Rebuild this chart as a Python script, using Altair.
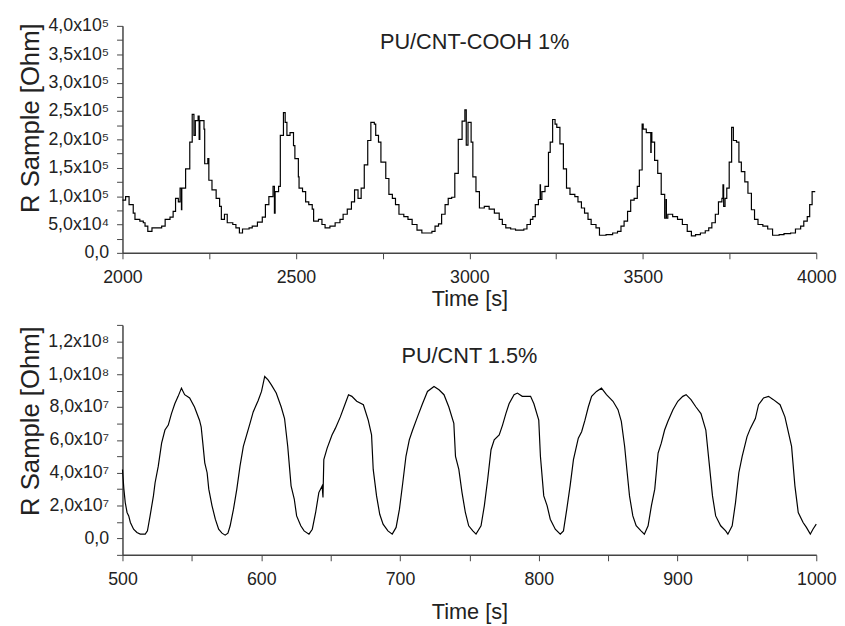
import altair as alt
import pandas as pd

# ---------------- data: top panel (PU/CNT-COOH 1%) ----------------
t_cooh = [2000, 2009, 2019, 2031, 2036, 2050, 2060, 2065, 2073, 2085, 2113, 2123, 2137, 2146, 2153, 2161,
          2166, 2170, 2171, 2182, 2194, 2201, 2206, 2210, 2218, 2221, 2223, 2235, 2237, 2246, 2249, 2258,
          2270, 2280, 2285, 2294, 2302, 2318, 2327, 2337, 2346, 2365, 2374, 2389, 2403, 2412, 2422, 2434,
          2438, 2440, 2450, 2455, 2464, 2469, 2474, 2483, 2493, 2497, 2507,
          2509, 2519, 2528, 2537, 2547, 2551, 2565, 2575, 2584, 2598, 2613, 2627, 2636, 2648, 2660, 2669,
          2679, 2688, 2697, 2707, 2716, 2726, 2730, 2738, 2745, 2759, 2768, 2778, 2787, 2797, 2811, 2823,
          2835, 2849, 2863, 2877, 2892, 2901, 2911, 2920, 2930, 2939, 2949, 2958, 2968, 2979, 2987, 2991,
          2996,
          3005, 3010, 3019, 3029, 3043, 3057, 3072, 3086, 3095, 3105, 3119, 3133, 3157, 3166, 3176, 3183,
          3190, 3199, 3204, 3205, 3209, 3218, 3228, 3233, 3240, 3247, 3252, 3261, 3271, 3280, 3290, 3304,
          3313, 3323, 3332, 3342, 3351, 3365, 3375, 3394, 3413, 3427, 3437, 3446, 3456, 3465, 3475, 3484,
          3490, 3498,
          3501, 3510, 3520, 3523, 3524, 3526, 3534, 3543, 3553, 3563, 3567, 3568, 3572, 3586, 3600, 3614,
          3628, 3640, 3652, 3666, 3680, 3690, 3699, 3709, 3718, 3728, 3731, 3733, 3737, 3742, 3749, 3756,
          3761, 3770, 3777, 3784, 3794, 3803, 3813, 3822, 3832, 3846, 3860, 3874, 3893, 3907, 3926, 3940,
          3955, 3964, 3974, 3981, 3988, 3997]
r_cooh = [93000, 99000, 85000, 70000, 59000, 56000, 53000, 47000, 38000, 44000, 47000, 59000, 63000, 73000, 96000, 90000,
          114000, 76000, 114000, 148000, 195000, 244000, 207000, 233000, 241000, 200000, 233000, 218000, 157000, 166000, 128000, 111000,
          96000, 82000, 59000, 68000, 53000, 50000, 44000, 35000, 42000, 44000, 47000, 54000, 63000, 85000, 99000, 117000,
          70000, 108000, 117000, 207000, 247000, 230000, 207000, 212000, 189000, 166000, 134000,
          114000, 108000, 90000, 85000, 77000, 56000, 59000, 50000, 44000, 47000, 53000, 59000, 68000, 77000, 90000, 111000,
          96000, 114000, 155000, 198000, 230000, 227000, 207000, 195000, 160000, 131000, 103000, 96000, 85000, 68000, 64000, 59000,
          50000, 40000, 35000, 35000, 38000, 47000, 51000, 68000, 85000, 96000, 98000, 140000, 200000, 232000, 252000, 190000,
          230000,
          195000, 134000, 108000, 79000, 82000, 77000, 70000, 59000, 50000, 44000, 42000, 40000, 42000, 50000, 59000, 64000,
          85000, 94000, 120000, 94000, 108000, 117000, 177000, 195000, 235000, 227000, 221000, 192000, 148000, 114000, 103000, 99000,
          90000, 79000, 70000, 59000, 50000, 44000, 31000, 32000, 35000, 38000, 47000, 56000, 73000, 93000, 96000, 117000,
          146000, 227000,
          218000, 212000, 212000, 177000, 212000, 195000, 163000, 140000, 103000, 61000, 94000, 61000, 68000, 64000, 59000, 50000,
          38000, 30000, 32000, 35000, 39000, 44000, 53000, 68000, 90000, 96000, 120000, 82000, 96000, 114000, 160000, 221000,
          198000, 195000, 160000, 143000, 125000, 105000, 76000, 59000, 50000, 47000, 42000, 31000, 32000, 34000, 35000, 42000,
          47000, 56000, 64000, 85000, 108000, 108000]

# ---------------- data: bottom panel (PU/CNT 1.5%) ----------------
t_cnt = [500, 501, 502, 503.3, 504.5, 505.7, 508, 510.4, 512.8, 516.4, 518, 519.9, 522.3, 523.5, 525.8, 528.2,
         530.6, 533, 535.3, 537.7, 540.1, 542.5, 544.8, 548.4, 551.9, 555.5, 556.7, 557.9, 559.3, 561, 562.2, 564.5,
         566.9, 569.3, 571.7, 574, 576, 577.6, 580, 582.4, 584.7, 587.1, 589.5, 591.9, 594.2, 597.8, 600.2, 602.5,
         604.9, 607.3, 610.8, 614.4, 616.8, 619.1, 621.5, 623.8, 625.5, 628.5, 630.9, 634.4, 636.8, 639.2, 641.5, 643.9,
         644.5, 645.1, 647.5, 651, 653.4, 657, 660.5, 662.9, 665.3, 668.8, 673.6, 677.1, 679.5, 680.7, 683.1, 685.4,
         687.8, 691.3, 694.4, 697.2, 699.6, 702, 704.3, 706.7, 709.1, 712.6, 716.2, 719.8, 724.5, 728.1, 731.7, 735.2,
         738.8, 740, 742.4, 744.7, 747.1, 749.5, 752.5, 754.8, 758.4, 760.8, 763.2, 765.6, 767.9, 771.5, 773.9, 776.3,
         778.6, 782.2, 784.6, 788.1, 791.7, 794.1, 796.5, 800, 801.2, 803.6, 806, 808.3, 811.9, 815.5, 817.8, 820.2,
         822.6, 825, 828.5, 830.9, 833.3, 835.7, 838.1, 841.6, 845.2, 848.8, 853.5, 857.1, 859.5, 861.9, 863.5, 865.4,
         867.8, 870.2, 873.7, 876.1, 878.8, 881.2, 883.6, 886, 888.3, 890.7, 893.1, 896.7, 900.2, 903.8, 906.2, 909.7,
         913.3, 916.9, 920.4, 922.8, 925.2, 927.5, 931.1, 934.7, 936.3, 939.4, 941.8, 944.2, 946.6, 950.1, 952.5, 956.1,
         958.4, 962, 965.6, 969.1, 973.9, 977.4, 982.2, 984.6, 987, 990.5, 992.9, 995.7, 997.6, 1000]
r_cnt_mohm = [42, 30, 21.8, 15.8, 13.7, 9.7, 5.6, 3.6, 2.6, 2.6, 4.6, 13.7, 25.9, 33.9, 44, 58,
              66, 69, 76, 82, 86.5, 91.5, 87.5, 85.5, 80, 72, 68, 58, 46, 40, 30, 20,
              11.7, 5.6, 3.2, 2.0, 3.2, 7.7, 17.8, 30, 44, 56, 63, 70, 77, 84, 89.5, 98.6,
              96.5, 93.5, 88.5, 80, 73, 56, 32, 24, 13.7, 7.7, 4.6, 2.6, 5.6, 15.8, 27.9, 32,
              25, 48, 55, 63, 67, 74, 82, 87.5, 86.5, 83.5, 81.4, 72, 63, 42, 25.9, 14.7,
              8.7, 4.6, 2.6, 6.7, 17.8, 33.9, 50, 60, 66, 74, 82, 89.5, 92.5, 90.5, 87.5, 80,
              70, 50, 42, 27.9, 15.8, 7.7, 4.6, 2.6, 7.7, 20, 36, 54, 60, 63, 69, 76,
              82, 87.5, 88.5, 86.5, 86.5, 86.5, 82, 72, 50, 25.9, 20, 11.7, 5.6, 2.6, 4.6, 17.8,
              32, 48, 61, 65, 72, 80, 86.5, 89.5, 91.5, 87.5, 83.5, 78.4, 71.3, 56, 42, 25.9,
              13.7, 7.7, 4.6, 2.6, 7.7, 20, 30, 52, 58, 66, 71.3, 78.4, 83.5, 86.5, 87.5, 84.5,
              80, 76, 66, 46, 25.9, 13.7, 7.7, 4.6, 2.6, 7.7, 21.8, 40, 50, 62, 67, 73,
              81.4, 85.5, 86.5, 84.5, 81.4, 74, 56, 32, 15.8, 9.7, 6.7, 2.6, 5.6, 8.7]

# ---------------- texts and ticks ----------------
title_top = "PU/CNT-COOH 1%"
title_bottom = "PU/CNT 1.5%"
title_top_pos = [3015, 372000]
title_bottom_pos = [750, 111000000]
x_title = "Time [s]"
y_title = "R Sample [Ohm]"

x1_domain = [2000, 4000]
x1_ticks = [2000, 2250, 2500, 2750, 3000, 3250, 3500, 3750, 4000]
x1_label_values = [2000, 2500, 3000, 3500, 4000]
x1_labels = ["2000", "2500", "3000", "3500", "4000"]

y1_domain = [0, 400000]
y1_ticks = [i * 25000 for i in range(17)]
y1_label_values = [0, 50000, 100000, 150000, 200000, 250000, 300000, 350000, 400000]
y1_labels = ["0,0", "5,0x10⁴", "1,0x10⁵", "1,5x10⁵", "2,0x10⁵", "2,5x10⁵", "3,0x10⁵", "3,5x10⁵", "4,0x10⁵"]

x2_domain = [500, 1000]
x2_ticks = [500, 550, 600, 650, 700, 750, 800, 850, 900, 950, 1000]
x2_label_values = [500, 600, 700, 800, 900, 1000]
x2_labels = ["500", "600", "700", "800", "900", "1000"]

y2_domain = [-10000000, 130000000]
y2_ticks = [i * 10000000 for i in range(-1, 14)]
y2_label_values = [0, 20000000, 40000000, 60000000, 80000000, 100000000, 120000000]
y2_labels = ["0,0", "2,0x10⁷", "4,0x10⁷", "6,0x10⁷", "8,0x10⁷", "1,0x10⁸", "1,2x10⁸"]


def label_expr(values, labels):
    expr = "''"
    for v, l in reversed(list(zip(values, labels))):
        expr = f"abs(datum.value - {v}) < 1 ? '{l}' : ({expr})"
    return expr


FONT = "Liberation Sans"
axis_style = dict(domainColor="#444", domainWidth=1.5, tickColor="#444", tickWidth=1, tickSize=6,
                  labelFont=FONT, labelFontSize=18, labelColor="#222", titleFont=FONT,
                  titleFontWeight="normal", titleColor="#222", grid=False, labelOverlap=False,
                  labelFlush=False, tickCount=200)

df1 = pd.DataFrame({"t": t_cooh, "r": r_cooh})
df2 = pd.DataFrame({"t": t_cnt, "r": [v * 1e6 for v in r_cnt_mohm]})
ann1 = pd.DataFrame({"t": [title_top_pos[0]], "r": [title_top_pos[1]], "label": [title_top]})
ann2 = pd.DataFrame({"t": [title_bottom_pos[0]], "r": [title_bottom_pos[1]], "label": [title_bottom]})


def panel(df, ann, xdom, xticks, xlv, xl, ydom, yticks, ylv, yl, height, x_title_pad, y_title_y, interp):
    xenc = alt.X("t:Q", scale=alt.Scale(domain=xdom, nice=False, zero=False),
                 axis=alt.Axis(values=xticks, labelExpr=label_expr(xlv, xl), title=x_title,
                               titleFontSize=22, labelPadding=10, titlePadding=x_title_pad, **axis_style))
    yenc = alt.Y("r:Q", scale=alt.Scale(domain=ydom, nice=False, zero=False),
                 axis=alt.Axis(values=yticks, labelExpr=label_expr(ylv, yl), title=y_title,
                               titleFontSize=26, labelPadding=8, titlePadding=4, titleY=y_title_y,
                               **axis_style))
    line = alt.Chart(df).mark_line(interpolate=interp, color="black", strokeWidth=1.2).encode(x=xenc, y=yenc)
    text = alt.Chart(ann).mark_text(font=FONT, fontSize=22, color="#222").encode(
        x=alt.X("t:Q"), y=alt.Y("r:Q"), text="label:N")
    return alt.layer(line, text).properties(width=703, height=height)


top = panel(df1, ann1, x1_domain, x1_ticks, x1_label_values, x1_labels, y1_domain, y1_ticks,
            y1_label_values, y1_labels, 230, 2, 93, "step-after")
bottom = panel(df2, ann2, x2_domain, x2_ticks, x2_label_values, x2_labels, y2_domain, y2_ticks,
               y2_label_values, y2_labels, 233, 14, 97, "linear")

chart = alt.vconcat(top, bottom, spacing=7).properties(
    padding={"left": 10, "top": 5, "right": 0, "bottom": 0}
).configure_view(stroke=None)

chart.save("out.html", embed_options={"renderer": "svg", "actions": False})
